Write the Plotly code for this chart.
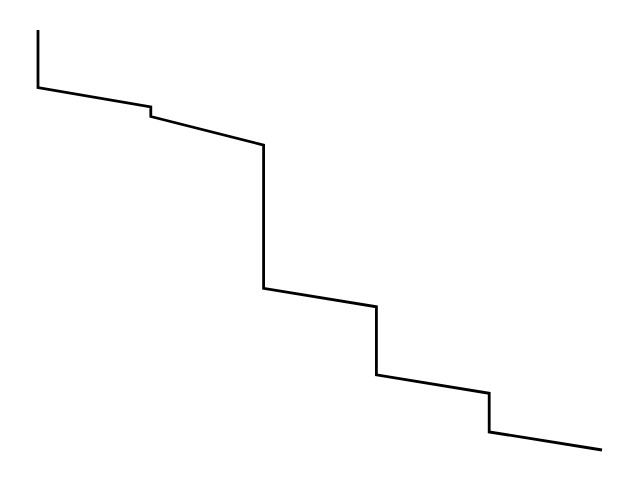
import plotly.graph_objects as go

x_vals = [0, 0, 1, 1, 2, 2, 3, 3, 4, 4, 5]
y_vals = [100, 86.3, 81.7, 79.4, 72.6, 38.5, 34.1, 17.9, 13.5, 4.3, 0]

fig = go.Figure(go.Scatter(x=x_vals, y=y_vals, mode="lines",
                           line=dict(color="black", width=2.8),
                           showlegend=False, hoverinfo="skip"))
fig.update_layout(
    width=632, height=474,
    margin=dict(l=0, r=0, t=0, b=0),
    paper_bgcolor="white", plot_bgcolor="white",
    xaxis=dict(visible=False, range=[-30/112.8, (632-30)/112.8]),
    yaxis=dict(visible=False, range=[-32/4.2, 442/4.2]),
)
fig.write_html("out.html")
